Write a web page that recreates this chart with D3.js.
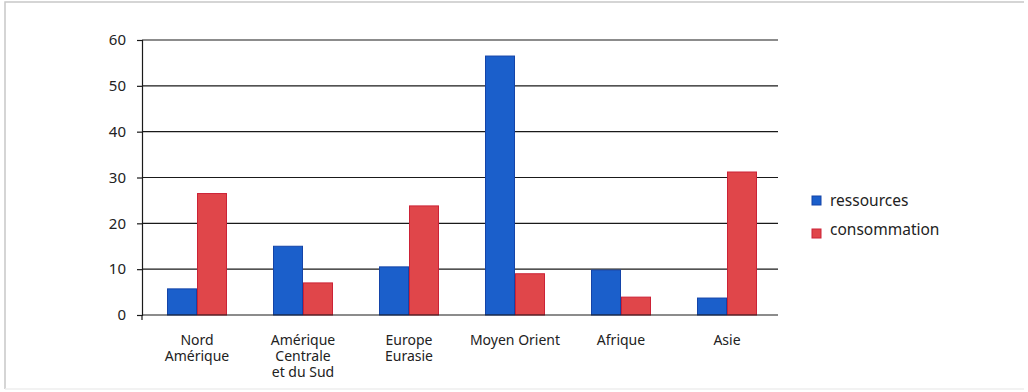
<!DOCTYPE html>
<html>
<head>
<meta charset="utf-8">
<script src="https://cdn.jsdelivr.net/npm/d3@7"></script>
<style>
  body { margin: 0; background: #fff; }
  text { font-family: "Noto Sans", "DejaVu Sans", sans-serif; fill: #222; }
</style>
</head>
<body>
<div id="chart"></div>
<script>
"use strict";

// data
var regions = ["Nord\nAmérique", "Amérique\nCentrale\net du Sud", "Europe\nEurasie",
               "Moyen Orient", "Afrique", "Asie"];
var series_names = ["ressources", "consommation"];
var ressources = [5.7, 15.0, 10.5, 56.5, 9.8, 3.7];
var consommation = [26.5, 7.0, 23.8, 9.0, 3.9, 31.2];
var y_ticks = [0, 10, 20, 30, 40, 50, 60];

var fills = ["#1b5fcb", "#e0464a"];
var strokes = ["#1444a8", "#cc2236"];

var width = 1028, height = 392;
var svg = d3.select("#chart").append("svg")
    .attr("width", width)
    .attr("height", height);

// thin frame of the scanned page
svg.append("path")
    .attr("d", "M5,389 L5,2 L1024,2")
    .attr("fill", "none")
    .attr("stroke", "#c8c8c8")
    .attr("stroke-width", 1.5);
svg.append("line")
    .attr("x1", 5).attr("x2", 1024).attr("y1", 389).attr("y2", 389)
    .attr("stroke", "#eee").attr("stroke-width", 1.5);

var plot_left = 142, plot_right = 778, plot_top = 40, plot_bottom = 315;

var x = d3.scaleBand().domain(regions).range([plot_left, plot_right]);
var x_inner = d3.scaleBand().domain(series_names).range([0, 60]);
var y = d3.scaleLinear().domain([0, 60]).range([plot_bottom, plot_top]);

// gridlines
svg.selectAll("line.grid")
    .data(y_ticks.filter(function(d) { return d > 0; }))
    .enter()
    .append("line")
    .attr("class", "grid")
    .attr("x1", plot_left).attr("x2", plot_right)
    .attr("y1", function(d) { return y(d); })
    .attr("y2", function(d) { return y(d); })
    .attr("stroke", "#1a1a1a")
    .attr("stroke-width", 1.2);

// y axis
var y_axis = svg.append("g")
    .attr("transform", "translate(" + plot_left + ",0)")
    .call(d3.axisLeft(y).tickValues(y_ticks).tickSize(5).tickPadding(11));
y_axis.select(".domain").attr("stroke", "#1a1a1a").attr("stroke-width", 1.2);
y_axis.selectAll(".tick line").attr("stroke", "#1a1a1a").attr("stroke-width", 1.2);
y_axis.selectAll(".tick text")
    .style("font-size", "15px")
    .style("font-family", "'Noto Sans', sans-serif")
    .attr("fill", "#222");

// bars
var groups = svg.selectAll("g.region")
    .data(regions)
    .enter()
    .append("g")
    .attr("class", "region")
    .attr("transform", function(d) {
        return "translate(" + (x(d) + x.bandwidth() / 2 - 30 + 2) + ",0)";
    });

groups.selectAll("rect")
    .data(function(d, i) {
        return [
            { "name": series_names[0], "value": ressources[i], "k": 0 },
            { "name": series_names[1], "value": consommation[i], "k": 1 }
        ];
    })
    .enter()
    .append("rect")
    .attr("x", function(d) { return x_inner(d.name) + 0.5; })
    .attr("width", x_inner.bandwidth() - 1)
    .attr("y", function(d) { return y(d.value); })
    .attr("height", function(d) { return y(0) - y(d.value); })
    .attr("fill", function(d) { return fills[d.k]; })
    .attr("stroke", function(d) { return strokes[d.k]; })
    .attr("stroke-width", 1);

// x axis line drawn over bar bottoms
svg.append("line")
    .attr("x1", plot_left).attr("x2", plot_right)
    .attr("y1", plot_bottom).attr("y2", plot_bottom)
    .attr("stroke", "#1a1a1a").attr("stroke-width", 1.2);
svg.append("line")
    .attr("x1", plot_left).attr("x2", plot_left)
    .attr("y1", plot_bottom).attr("y2", plot_bottom + 5)
    .attr("stroke", "#1a1a1a").attr("stroke-width", 1.2);

// category labels
svg.selectAll("text.cat")
    .data(regions)
    .enter()
    .append("text")
    .attr("class", "cat")
    .attr("text-anchor", "middle")
    .style("font-size", "14px")
    .attr("transform", function(d) {
        return "translate(" + (x(d) + x.bandwidth() / 2 + 2) + ",345)";
    })
    .selectAll("tspan")
    .data(function(d) { return d.split("\n"); })
    .enter()
    .append("tspan")
    .attr("x", 0)
    .attr("dy", function(d, i) { return i === 0 ? 0 : 16; })
    .text(function(d) { return d; });

// legend
var legend = svg.selectAll("g.legend")
    .data(series_names)
    .enter()
    .append("g")
    .attr("class", "legend")
    .attr("transform", function(d, i) {
        return "translate(812," + (196 + i * 33) + ")";
    });
legend.append("rect")
    .attr("width", 9).attr("height", 9)
    .attr("fill", function(d, i) { return fills[i]; })
    .attr("stroke", function(d, i) { return strokes[i]; });
legend.append("text")
    .attr("x", 18)
    .attr("y", function(d, i) { return i === 0 ? 10 : 6; })
    .style("font-size", "15.5px")
    .text(function(d) { return d; });
</script>
</body>
</html>
